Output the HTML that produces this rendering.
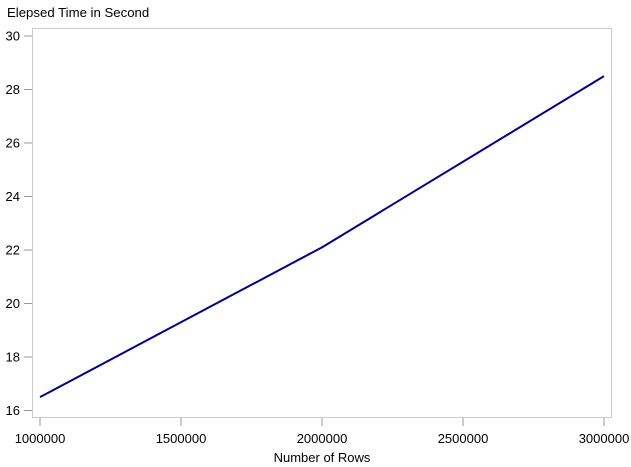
<!DOCTYPE html>
<html><head><meta charset="utf-8"><style>body{margin:0;background:#fff}svg{display:block;font-family:"Liberation Sans",Arial,sans-serif}</style></head>
<body>
<svg id="c" width="631" height="467">
<text x="7" y="17" font-size="13.2" fill="#000">Elepsed Time in Second</text>
<rect x="32.5" y="28.5" width="579" height="389" fill="none" stroke="#ccc"/>
<text x="322" y="462" font-size="13" text-anchor="middle">Number of Rows</text>
</svg>
<script>
const xs=[1000000,2000000,3000000];
const ys=[16.5,22.1,28.5];
const yTicks=[16,18,20,22,24,26,28,30];
const xTicks=[1000000,1500000,2000000,2500000,3000000];
const svg=document.getElementById('c');const NS='http://www.w3.org/2000/svg';
const X=v=>40+(v-1000000)/2000000*564;
const Y=v=>410.5-(v-16)/14*374.5;
function mk(t,a){const e=document.createElementNS(NS,t);for(const k in a)e.setAttribute(k,a[k]);svg.appendChild(e);return e;}
yTicks.forEach(t=>{
 const l=mk('line',{x1:24,x2:32,y1:Y(t),y2:Y(t),stroke:'#999'});
 
 
 const s=mk('text',{x:20,y:Y(t)+4.5,'font-size':13,'text-anchor':'end'});s.textContent=t;
 
 
});
xTicks.forEach(t=>{
 const l=mk('line',{x1:X(t),x2:X(t),y1:418,y2:426,stroke:'#999'});
 
 
 const s=mk('text',{x:X(t),y:443,'font-size':13,'text-anchor':'middle'});s.textContent=t;
 
 
});
const p=mk('polyline',{points:xs.map((x,i)=>X(x)+','+Y(ys[i])).join(' '),fill:'none',stroke:'#00008b','stroke-width':2});


</script>
</body></html>
